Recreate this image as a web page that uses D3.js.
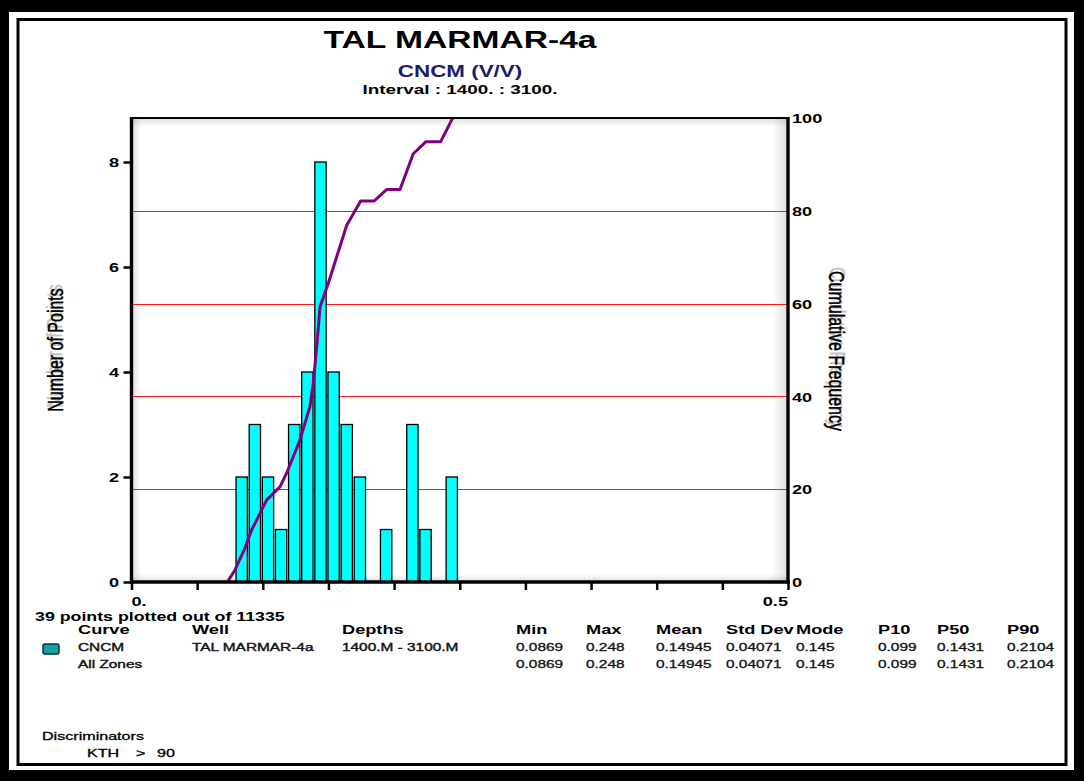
<!DOCTYPE html>
<html>
<head>
<meta charset="utf-8">
<script src="https://cdn.jsdelivr.net/npm/d3@7"></script>
<style>
  body { margin: 0; background: #fff; }
  svg { display: block; }
  text { font-family: "Liberation Sans", Arial, Helvetica, sans-serif; }
</style>
</head>
<body>
<svg id="chart" width="1084" height="781"></svg>
<script>
// ---- Histogram of CNCM (V/V), bins of 0.01 ----
const binStarts = [0.08, 0.09, 0.10, 0.11, 0.12, 0.13, 0.14, 0.15, 0.16, 0.17, 0.18, 0.19, 0.20, 0.21, 0.22, 0.23, 0.24];
const binCounts = [2, 3, 2, 1, 3, 4, 8, 4, 3, 2, 0, 1, 0, 3, 1, 0, 2];
const binWidth = 0.01;

// ---- Cumulative frequency curve (percent) ----
const cumX   = [0.0737, 0.0788, 0.0864, 0.0915, 0.0954, 0.1030, 0.1131, 0.1182, 0.1283, 0.1359, 0.1385, 0.1415, 0.1436, 0.1499, 0.1563, 0.1639, 0.1746, 0.1847, 0.1944, 0.2045, 0.2146, 0.2243, 0.2355, 0.2446];
const cumPct = [0.3, 2.6, 7.3, 11.2, 13.4, 17.7, 20.5, 23.5, 30.6, 37.8, 42.9, 52.2, 59.3, 64.4, 70.1, 76.9, 82.1, 82.1, 84.6, 84.6, 92.3, 94.9, 94.9, 100];

// ---- Axes ----
const xTicks = [0, 0.05, 0.10, 0.15, 0.20, 0.25, 0.30, 0.35, 0.40, 0.45, 0.50];
const leftTicks = [0, 2, 4, 6, 8];
const rightTicks = [0, 20, 40, 60, 80, 100];
const gridPct = [20, 40, 60, 80];

// ---- Header / footer texts ----
const titleText = "TAL MARMAR-4a";
const curveText = "CNCM (V/V)";
const intervalText = "Interval : 1400. : 3100.";
const pointsText = "39 points plotted out of 11335";
const tableHeaders = ["Curve", "Well", "Depths", "Min", "Max", "Mean", "Std Dev", "Mode", "P10", "P50", "P90"];
const rowCurve = ["CNCM", "TAL MARMAR-4a", "1400.M - 3100.M"];
const rowAllZones = ["All Zones", "", ""];
const statsValues = ["0.0869", "0.248", "0.14945", "0.04071", "0.145", "0.099", "0.1431", "0.2104"];
const discrimLabel = "Discriminators";
const discrimRule = ["KTH", ">", "90"];

// ---- Layout ----
const W = 1084, H = 781;
const SX = 1.4;                 // horizontal widening of the lettering
const X0 = 131.5, X1 = 788, Y0 = 582, Y1 = 118;
const colX = [78, 192, 342, 516, 586, 656, 726, 796, 878, 937, 1007];

const svg = d3.select("#chart");

const x = d3.scaleLinear().domain([0, 0.5]).range([X0, X1]);
const yL = d3.scaleLinear().domain([0, (Y0 - Y1) / 52.5]).range([Y0, Y1]);
const yR = d3.scaleLinear().domain([0, 100]).range([Y0, Y1]);

function txt(parent, px, py, s, o = {}) {
  const t = parent.append("text")
    .attr("transform", `translate(${px},${py}) scale(${SX},1)` + (o.rot ? ` rotate(${o.rot})` : ""))
    .attr("text-anchor", o.anchor || "start")
    .attr("font-size", o.size || 12)
    .attr("font-weight", o.weight || "normal")
    .attr("fill", o.fill || "#000")
    .attr("opacity", o.opacity == null ? 1 : o.opacity)
    .text(s);
  if (o.heavy) t.attr("stroke", o.fill || "#000").attr("stroke-width", o.heavy);
  return t;
}

// page frame
svg.append("rect").attr("width", W).attr("height", H).attr("fill", "#000");
svg.append("rect").attr("x", 9).attr("y", 12).attr("width", W - 19).attr("height", H - 23).attr("fill", "#fff");
svg.append("rect").attr("x", 18).attr("y", 19.5).attr("width", W - 36).attr("height", H - 36)
  .attr("fill", "none").attr("stroke", "#000").attr("stroke-width", 3);

// titles
txt(svg, 460, 48, titleText, { anchor: "middle", size: 24, weight: "bold" });
txt(svg, 460, 77, curveText, { anchor: "middle", size: 16, weight: "bold", fill: "#1c1c6a" });
txt(svg, 460, 94, intervalText, { anchor: "middle", size: 13.5, weight: "bold" });

// plot background with soft inner shading
const defs = svg.append("defs");
function grad(id, x1, y1, x2, y2) {
  const g = defs.append("linearGradient").attr("id", id)
    .attr("x1", x1).attr("y1", y1).attr("x2", x2).attr("y2", y2);
  g.append("stop").attr("offset", "0%").attr("stop-color", "#000").attr("stop-opacity", 0.13);
  g.append("stop").attr("offset", "100%").attr("stop-color", "#000").attr("stop-opacity", 0);
}
grad("shL", 0, 0, 1, 0); grad("shR", 1, 0, 0, 0); grad("shT", 0, 0, 0, 1); grad("shB", 0, 1, 0, 0);
const plot = svg.append("g");
plot.append("rect").attr("x", X0).attr("y", Y1).attr("width", X1 - X0).attr("height", Y0 - Y1).attr("fill", "#fff");
plot.append("rect").attr("x", X0).attr("y", Y1).attr("width", 10).attr("height", Y0 - Y1).attr("fill", "url(#shL)");
plot.append("rect").attr("x", X1 - 16).attr("y", Y1).attr("width", 16).attr("height", Y0 - Y1).attr("fill", "url(#shR)");
plot.append("rect").attr("x", X0).attr("y", Y1).attr("width", X1 - X0).attr("height", 9).attr("fill", "url(#shT)");
plot.append("rect").attr("x", X0).attr("y", Y0 - 8).attr("width", X1 - X0).attr("height", 8).attr("fill", "url(#shB)");

// red grid lines on the cumulative scale
plot.selectAll("line.grid").data(gridPct).join("line")
  .attr("class", "grid")
  .attr("x1", X0).attr("x2", X1)
  .attr("y1", d => Math.round(yR(d)) + 0.5).attr("y2", d => Math.round(yR(d)) + 0.5)
  .attr("stroke", "#ff1a1a").attr("stroke-width", 1.2);

// histogram bars
const bars = binStarts.map((b, i) => ({ b, n: binCounts[i] })).filter(d => d.n > 0);
plot.selectAll("rect.bar").data(bars).join("rect")
  .attr("class", "bar")
  .attr("x", d => x(d.b) - 0.5)
  .attr("width", d => x(d.b + binWidth) - x(d.b) - 1.8)
  .attr("y", d => yL(d.n))
  .attr("height", d => Y0 - yL(d.n))
  .attr("fill", "#00ffff")
  .attr("stroke", "#000").attr("stroke-width", 1.3);

// cumulative curve
const clip = defs.append("clipPath").attr("id", "plotClip");
clip.append("rect").attr("x", X0).attr("y", Y1).attr("width", X1 - X0).attr("height", Y0 - Y1 + 2);
plot.append("path")
  .datum(cumX.map((v, i) => [v, cumPct[i]]))
  .attr("clip-path", "url(#plotClip)")
  .attr("fill", "none").attr("stroke", "#800080").attr("stroke-width", 3)
  .attr("stroke-linejoin", "round")
  .attr("d", d3.line().x(d => x(d[0])).y(d => yR(d[1])));

// top frame line
plot.append("line").attr("x1", X0).attr("x2", X1).attr("y1", Y1).attr("y2", Y1).attr("stroke", "#000").attr("stroke-width", 2.2);

// left axis
const gL = svg.append("g").attr("transform", `translate(${X0},0)`)
  .call(d3.axisLeft(yL).tickValues(leftTicks).tickSize(8).tickSizeOuter(0).tickFormat(d3.format("d")));
gL.select(".domain").remove();
gL.selectAll(".tick line").attr("stroke", "#000").attr("stroke-width", 2.5);
gL.selectAll(".tick text")
  .attr("font-size", 13).attr("font-weight", "bold").attr("fill", "#000")
  .attr("font-family", "Liberation Sans, Arial, sans-serif")
  .attr("x", -12.5 / SX).attr("dy", "0.36em")
  .attr("transform", `scale(${SX},1)`);

// right axis
const gR = svg.append("g").attr("transform", `translate(${X1},0)`)
  .call(d3.axisRight(yR).tickValues(rightTicks).tickSize(0).tickSizeOuter(0).tickFormat(d3.format("d")));
gR.select(".domain").remove();
gR.selectAll(".tick text")
  .attr("font-size", 13).attr("font-weight", "bold").attr("fill", "#000")
  .attr("font-family", "Liberation Sans, Arial, sans-serif")
  .attr("x", 4 / SX).attr("dy", "0.36em")
  .attr("transform", `scale(${SX},1)`);

// bottom axis
const gB = svg.append("g").attr("transform", `translate(0,${Y0})`)
  .call(d3.axisBottom(x).tickValues(xTicks).tickSize(8).tickSizeOuter(0).tickFormat(""));
gB.select(".domain").remove();
gB.selectAll(".tick line").attr("stroke", "#000").attr("stroke-width", 2.5);

// heavy axis lines
svg.append("line").attr("x1", X0).attr("x2", X0).attr("y1", Y1 - 1).attr("y2", Y0 + 1.5).attr("stroke", "#000").attr("stroke-width", 3.4);
svg.append("line").attr("x1", X1).attr("x2", X1).attr("y1", Y1 - 1).attr("y2", Y0 + 1.5).attr("stroke", "#000").attr("stroke-width", 3.4);
svg.append("line").attr("x1", X0 - 1.5).attr("x2", X1 + 1.5).attr("y1", Y0).attr("y2", Y0).attr("stroke", "#000").attr("stroke-width", 3.4);

txt(svg, x(0), 606, "0.", { size: 13, weight: "bold" });
txt(svg, x(0.5), 606, "0.5", { anchor: "end", size: 13, weight: "bold" });

// axis titles (with the faint offset ghost seen in the print)
txt(svg, 62, 346, "Number of Points", { anchor: "middle", size: 16, rot: -90, fill: "#777", opacity: 0.45, heavy: 0.3 });
txt(svg, 63, 350, "Number of Points", { anchor: "middle", size: 16, rot: -90, heavy: 0.35 });
txt(svg, 830, 347, "Cumulative Frequency", { anchor: "middle", size: 16, rot: 90, fill: "#777", opacity: 0.45, heavy: 0.3 });
txt(svg, 829, 351, "Cumulative Frequency", { anchor: "middle", size: 16, rot: 90, heavy: 0.35 });

// statistics table
txt(svg, 35, 621, pointsText, { size: 12.7, weight: "bold" });
tableHeaders.forEach((h, i) => txt(svg, colX[i], 634, h, { size: 13, weight: "bold" }));
svg.append("rect").attr("x", 43).attr("y", 644).attr("width", 16).attr("height", 10).attr("rx", 2)
  .attr("fill", "#17a0a0").attr("stroke", "#0b3535").attr("stroke-width", 1.5);
[rowCurve, rowAllZones].forEach((row, r) => {
  const yy = 651 + r * 17;
  row.forEach((s, i) => { if (s) txt(svg, colX[i], yy, s, { size: 11, fill: "#111", heavy: 0.4 }); });
  statsValues.forEach((s, i) => txt(svg, colX[i + 3], yy, s, { size: 11, fill: "#111", heavy: 0.3 }));
});

// discriminators
txt(svg, 42, 740, discrimLabel, { size: 11.5, heavy: 0.3 });
txt(svg, 87, 757, discrimRule[0], { size: 11.5, heavy: 0.3 });
txt(svg, 136, 757, discrimRule[1], { size: 11.5, heavy: 0.3 });
txt(svg, 157, 757, discrimRule[2], { size: 11.5, heavy: 0.3 });
</script>
</body>
</html>
